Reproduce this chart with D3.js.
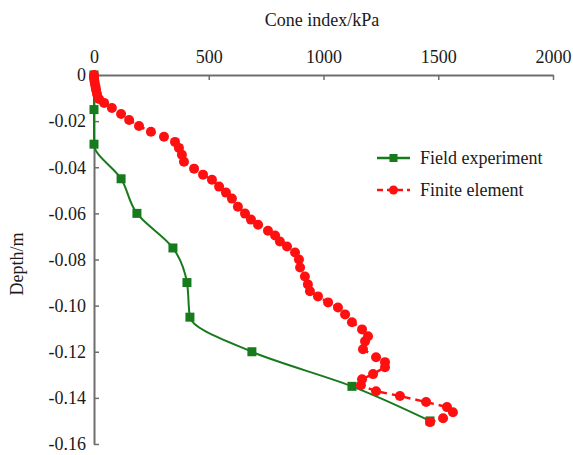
<!DOCTYPE html>
<html>
<head>
<meta charset="utf-8">
<script src="https://cdn.jsdelivr.net/npm/d3@7"></script>
<style>
  html, body { margin: 0; padding: 0; background: #fff; }
  svg { display: block; }
  svg text { font-family: "Liberation Serif", "Times New Roman", serif !important; fill: #1a1a1a; }
</style>
</head>
<body>
<svg id="chart" width="573" height="455"></svg>
<script>
// ---- data ----
const xTicks = [0, 500, 1000, 1500, 2000];
const yTicks = [0, -0.02, -0.04, -0.06, -0.08, -0.10, -0.12, -0.14, -0.16];
const seriesNames = ["Field experiment", "Finite element"];

const fieldIndex = [0, 0, 0, 118, 187, 344, 405, 418, 688, 1124, 1464];
const fieldDepth = [0, -0.015, -0.03, -0.045, -0.06, -0.075, -0.09, -0.105, -0.12, -0.135, -0.15];

const feIndex = [0, 0, 2, 4, 7, 9, 13, 22, 44, 78, 118, 153, 196, 248, 305, 353, 370, 383, 392, 436,
  475, 514, 545, 575, 601, 627, 658, 684, 715, 758, 789, 810, 841, 876, 893, 898, 919, 932, 941, 976,
  1020, 1063, 1094, 1124, 1168, 1194, 1181, 1172, 1229, 1268, 1268, 1216, 1168, 1163, 1229, 1333, 1447, 1538, 1564, 1521, 1464];
const feDepth = [0, -0.0013, -0.0026, -0.0039, -0.0052, -0.0065, -0.0082, -0.0104, -0.0121, -0.0143, -0.0169, -0.0195, -0.0221, -0.0246, -0.0268, -0.0290, -0.0316, -0.0346, -0.0376, -0.0406,
  -0.0432, -0.0454, -0.0484, -0.0510, -0.0536, -0.0571, -0.0601, -0.0627, -0.0649, -0.0675, -0.0696, -0.0722, -0.0744, -0.0770, -0.0800, -0.0835, -0.0874, -0.0908, -0.0938, -0.0960,
  -0.0986, -0.1008, -0.1038, -0.1072, -0.1103, -0.1133, -0.1155, -0.1189, -0.1224, -0.1245, -0.1267, -0.1297, -0.1319, -0.1345, -0.1371, -0.1392, -0.1418, -0.1440, -0.1462, -0.1488, -0.1505];

// ---- layout ----
const svg = d3.select("#chart");
const mLeft = 94, mTop = 75, mRight = 553, mBottom = 444;
const green = "#177a1d", red = "#ff1010", axisCol = "#6e6e6e";
const serif = "'Liberation Serif', 'Times New Roman', serif";

const x = d3.scaleLinear().domain([0, 2000]).range([mLeft, mRight]);
const y = d3.scaleLinear().domain([0, -0.16]).range([mTop, mBottom]);

// axes
const xAxis = d3.axisTop(x).tickValues(xTicks).tickSizeInner(-5).tickSizeOuter(0).tickPadding(12).tickFormat(d3.format("d"));
const gx = svg.append("g").attr("transform", `translate(0,${mTop})`).call(xAxis);
const yAxis = d3.axisLeft(y).tickValues(yTicks).tickSizeInner(-5).tickSizeOuter(0).tickPadding(8)
  .tickFormat(d => d === 0 ? "0" : d.toFixed(2));
const gy = svg.append("g").attr("transform", `translate(${mLeft},0)`).call(yAxis);

[gx, gy].forEach(g => {
  g.attr("font-family", serif).attr("font-size", 18);
  g.select(".domain").attr("stroke", axisCol).attr("stroke-width", 2);
  g.selectAll(".tick line").attr("stroke", axisCol).attr("stroke-width", 1.5);
  g.selectAll(".tick text").attr("fill", "#1a1a1a").style("font-family", serif).style("font-size", "18px");
});

// titles
svg.append("text").attr("x", 322).attr("y", 26).attr("text-anchor", "middle")
  .style("font-size", "18px").text("Cone index/kPa");
svg.append("text").attr("transform", "translate(23,264) rotate(-90)").attr("text-anchor", "middle")
  .style("font-size", "18px").text("Depth/m");

const field = fieldIndex.map((v, i) => ({ x: v, y: fieldDepth[i] }));
const fe = feIndex.map((v, i) => ({ x: v, y: feDepth[i] }));

// field experiment
svg.append("path").datum(field)
  .attr("fill", "none").attr("stroke", green).attr("stroke-width", 2)
  .attr("d", d3.line().x(d => x(d.x)).y(d => y(d.y)).curve(d3.curveMonotoneY));
svg.append("g").selectAll("rect").data(field).join("rect")
  .attr("x", d => x(d.x) - 4.5).attr("y", d => y(d.y) - 4.5)
  .attr("width", 9).attr("height", 9).attr("fill", green);

// finite element
svg.append("path").datum(fe)
  .attr("fill", "none").attr("stroke", red).attr("stroke-width", 2.5).attr("stroke-dasharray", "7,5")
  .attr("d", d3.line().x(d => x(d.x)).y(d => y(d.y)));
svg.append("g").selectAll("circle").data(fe).join("circle")
  .attr("cx", d => x(d.x)).attr("cy", d => y(d.y)).attr("r", 5).attr("fill", red);

// legend
const leg = svg.append("g");
const legItems = [
  { name: seriesNames[0], color: green, dash: null, shape: "rect", yy: 158 },
  { name: seriesNames[1], color: red, dash: "6,4", shape: "circle", yy: 190 }
];
legItems.forEach(it => {
  leg.append("line").attr("x1", 377).attr("x2", 410).attr("y1", it.yy).attr("y2", it.yy)
    .attr("stroke", it.color).attr("stroke-width", 2.5).attr("stroke-dasharray", it.dash);
  if (it.shape === "rect") {
    leg.append("rect").attr("x", 393.5 - 4).attr("y", it.yy - 4).attr("width", 8).attr("height", 8).attr("fill", it.color);
  } else {
    leg.append("circle").attr("cx", 393.5).attr("cy", it.yy).attr("r", 4.5).attr("fill", it.color);
  }
  leg.append("text").attr("x", 420).attr("y", it.yy + 6).style("font-size", "18px").text(it.name);
});
</script>
</body>
</html>
